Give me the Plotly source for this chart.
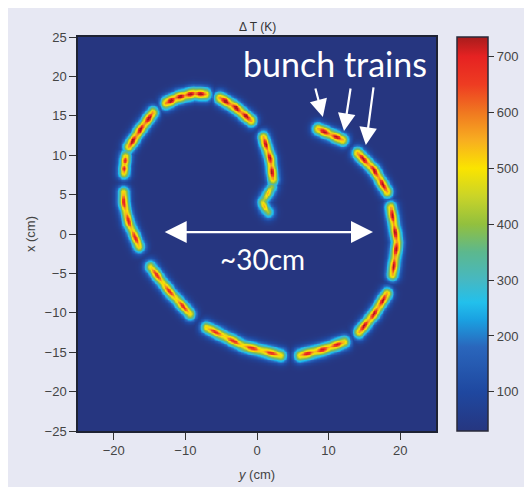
import numpy as np
import plotly.graph_objects as go

# ---- data (y = horizontal, x = vertical, in cm) ----
seg_y = [
    [1.82, 1.12, 0.70, 1.40, 2.23],            # tail (inner end)
    [2.23, 1.82, 0.70],
    [-0.56, -3.07, -5.59],
    [-6.84, -8.94, -11.17, -13.13],
    [-14.34, -16.34, -18.20],
    [-18.34, -18.58, -18.67],
    [-18.70, -18.67, -17.97, -16.34],
    [-15.18, -12.15, -9.12],
    [-7.50, -1.91, 3.67],
    [5.54, 9.26, 12.53],
    [13.92, 16.24, 18.34],
    [18.81, 19.51, 18.58],
    [18.34, 16.24, 13.69],
    [12.29, 10.20, 8.10],                       # outer end
]
seg_x = [
    [2.54, 3.30, 4.06, 5.08, 6.35],
    [6.60, 9.52, 12.69],
    [14.21, 16.12, 17.51],
    [17.77, 17.89, 17.39, 16.50],
    [15.77, 13.32, 10.79],
    [10.28, 8.67, 7.40],
    [5.71, 4.02, 1.48, -1.90],
    [-3.81, -7.40, -10.37],
    [-11.64, -14.18, -15.45],
    [-15.45, -14.59, -13.54],
    [-12.69, -10.15, -7.19],
    [-5.49, -1.05, 3.81],
    [5.08, 8.25, 10.57],
    [11.84, 12.69, 13.54],
]
seg_peak = [520, 700, 725, 730, 720, 660, 660, 640, 640, 670, 700, 705, 710, 700]
seg_dashes = [2, 3, 3, 4, 3, 2, 3, 3, 4, 3, 3, 4, 3, 2]

background_T = 30
cb_ticks = [100, 200, 300, 400, 500, 600, 700]
axis_ticks_h = [-20, -10, 0, 10, 20]
axis_ticks_v = [-25, -20, -15, -10, -5, 0, 5, 10, 15, 20, 25]

# ---- render the temperature map from the segments ----
step = 0.2
grid = np.arange(-25, 25 + 1e-9, step)
YY, XX = np.meshgrid(grid, grid)
Z = np.full(YY.shape, float(background_T))
sig_core, sig_base = 0.2, 0.64
trim = 0.4

for ys, xs, peak, nd in zip(seg_y, seg_x, seg_peak, seg_dashes):
    P = np.array([ys, xs]).T
    pts = []
    for a, b in zip(P[:-1], P[1:]):
        n = max(2, int(np.hypot(*(b - a)) / 0.04))
        t = np.linspace(0, 1, n, endpoint=False)[:, None]
        pts.append(a + (b - a) * t)
    pts.append(P[-1:])
    pts = np.vstack(pts)
    s = np.concatenate([[0], np.cumsum(np.hypot(*np.diff(pts, axis=0).T))])
    L = s[-1]
    keep = (s >= trim) & (s <= L - trim)
    pts, s = pts[keep], s[keep] - trim
    L = s[-1]
    y0, y1 = pts[:, 0].min() - 3, pts[:, 0].max() + 3
    x0, x1 = pts[:, 1].min() - 3, pts[:, 1].max() + 3
    m = (YY >= y0) & (YY <= y1) & (XX >= x0) & (XX <= x1)
    gy, gx = YY[m], XX[m]
    d2 = (gy[:, None] - pts[None, :, 0]) ** 2 + (gx[:, None] - pts[None, :, 1]) ** 2
    i = d2.argmin(axis=1)
    dmin = d2[np.arange(len(i)), i]
    sn = s[i]
    wave = np.sin(np.pi * nd * sn / L) ** 2          # 1 at dash centres
    core_w = 0.08 + 0.22 * wave
    base_w = 0.72 + 0.06 * wave
    prof = (core_w * np.exp(-dmin / (2 * sig_core ** 2))
            + base_w * np.exp(-dmin / (2 * sig_base ** 2)))
    val = background_T + (peak - background_T) * prof
    Z[m] = np.maximum(Z[m], val)

Z = np.round(Z, 1)

cmin, cmax = 30, 735
stops = [
    (30, "#263680"), (100, "#1f48a0"), (180, "#2a66bc"), (230, "#1aa2e2"),
    (260, "#22c0ec"), (300, "#46b8c2"), (350, "#5cb88e"), (400, "#92c03e"),
    (450, "#cad428"), (500, "#fae400"), (550, "#f8ae20"), (600, "#f07820"),
    (650, "#ee3c22"), (700, "#e62222"), (735, "#a81c1c"),
]
colorscale = [[(v - cmin) / (cmax - cmin), c] for v, c in stops]

fig = go.Figure()
fig.add_trace(go.Heatmap(
    x=grid, y=grid, z=Z, zmin=cmin, zmax=cmax, zsmooth="best",
    colorscale=colorscale, hoverinfo="skip",
    colorbar=dict(
        x=1.0587, xanchor="left", xpad=0, y=0.5, yanchor="middle", ypad=0,
        len=1, lenmode="fraction", thickness=31,
        outlinecolor="#2a2a3a", outlinewidth=1.5,
        tickvals=cb_ticks, ticks="outside", ticklen=6, tickcolor="#333",
        tickfont=dict(family="Liberation Sans", size=13, color="#444"),
    ),
))

axis_common = dict(
    showgrid=False, zeroline=False, showline=True, mirror=True,
    linecolor="#1e2233", linewidth=1.5, ticks="outside", ticklen=7,
    tickcolor="#333", tickwidth=1, automargin=False,
    tickfont=dict(family="Liberation Sans", size=13, color="#444"),
    range=[-25, 25],
)
fig.update_xaxes(**axis_common, tickvals=axis_ticks_h,
                 title=dict(text="<i>y</i> (cm)", standoff=13,
                            font=dict(family="Liberation Sans", size=13, color="#444")))
fig.update_yaxes(**axis_common, tickvals=axis_ticks_v,
                 title=dict(text="x (cm)", standoff=6,
                            font=dict(family="Liberation Sans", size=13, color="#444")))

ann = [
    dict(text="Δ T (K)", x=0.5, y=1, xref="paper", yref="paper", xanchor="center",
         yanchor="bottom", yshift=1, showarrow=False,
         font=dict(family="Liberation Sans", size=12, color="#333")),
    dict(text="bunch trains", x=10.9, y=21.7, xref="x", yref="y", showarrow=False,
         font=dict(family="Lato", size=34, color="white")),
    dict(text="~30cm", x=0.8, y=-3.2, xref="x", yref="y", showarrow=False,
         font=dict(family="Lato", size=28, color="white")),
]
arrows = [((9.2, 14.85), (8.1, 18.65)), ((12.15, 13.07), (13.1, 18.65)),
          ((15.2, 11.3), (16.3, 18.8))]
for (tx, ty), (ax_, ay_) in arrows:
    ann.append(dict(text="", x=tx, y=ty, ax=ax_, ay=ay_, xref="x", yref="y",
                    axref="x", ayref="y", showarrow=True, arrowhead=2,
                    arrowsize=1.6, arrowwidth=2.2, arrowcolor="white"))
ann.append(dict(text="", x=16.2, y=0.25, ax=-13.1, ay=0.25, xref="x", yref="y",
                axref="x", ayref="y", showarrow=True, arrowhead=2, startarrowhead=2,
                arrowside="end+start", arrowsize=2.0, startarrowsize=2.0,
                arrowwidth=2.2, arrowcolor="white"))

# the page body adds an 8px offset, so the figure is 8px smaller than the window
fig.update_layout(
    width=524, height=479,
    margin=dict(l=70, r=96, t=29, b=56),
    paper_bgcolor="#e7e8f3", plot_bgcolor="#263680",
    annotations=ann, showlegend=False,
)
fig.write_html("out.html")
